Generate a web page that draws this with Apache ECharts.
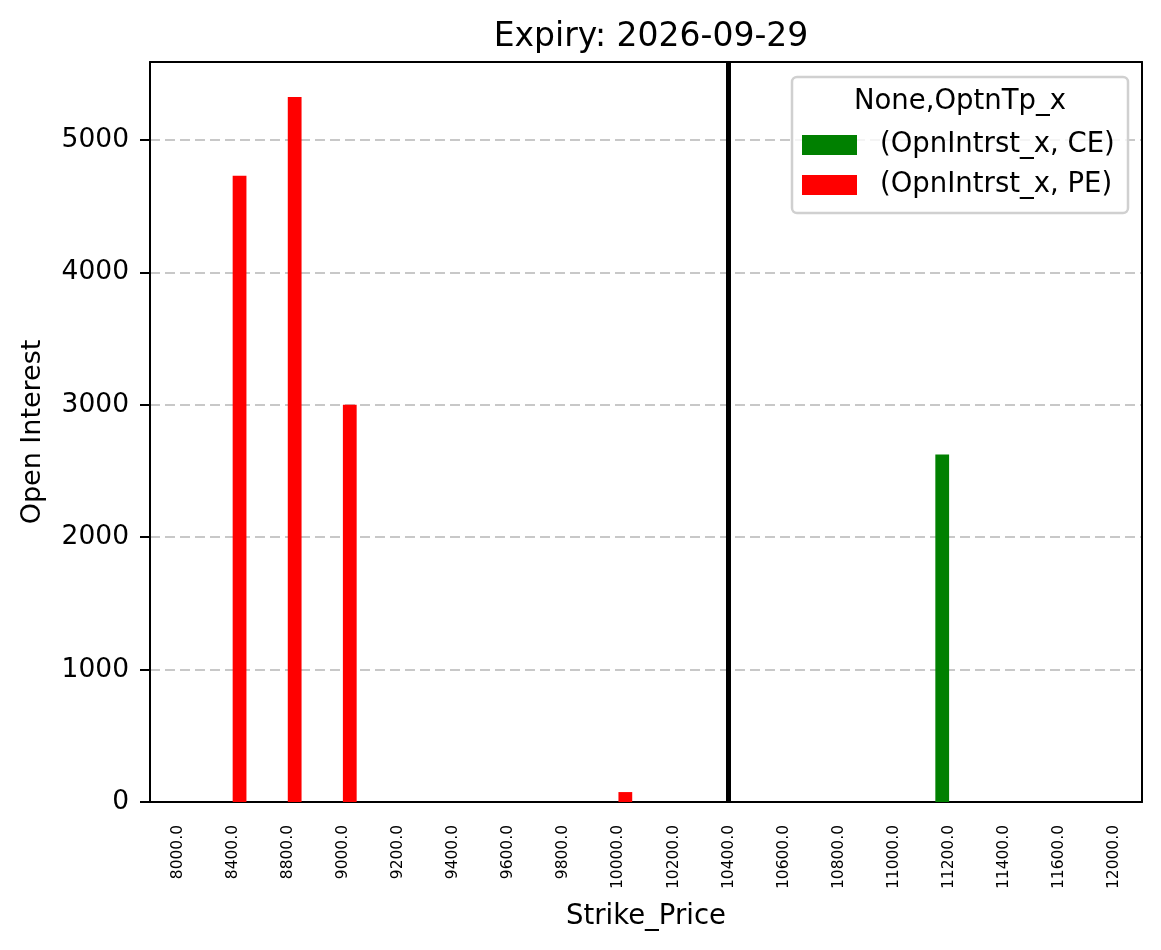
<!DOCTYPE html>
<html>
<head>
<meta charset="utf-8">
<script src="https://cdn.jsdelivr.net/npm/echarts@6/dist/echarts.min.js"></script>
<style>html,body{margin:0;padding:0;background:#fff}#c{width:1161px;height:950px}</style>
</head>
<body>
<div id="c"></div>
<script>
const strikes = ['8000.0','8400.0','8800.0','9000.0','9200.0','9400.0','9600.0','9800.0','10000.0','10200.0','10400.0','10600.0','10800.0','11000.0','11200.0','11400.0','11600.0','12000.0'];
const ceOI = [0,0,0,0,0,0,0,0,0,0,0,0,0,0,2625,0,0,0];
const peOI = [0,4730,5325,3000,0,0,0,0,75,0,0,0,0,0,0,0,0,0];
const spotStrike = '10400.0';

const F = 'DejaVu Sans';
const chart = echarts.init(document.getElementById('c'), null, {renderer:'canvas'});
chart.setOption({
  animation:false,
  backgroundColor:'#fff',
  textStyle:{fontFamily:F},
  title:{text:'Expiry: 2026-09-29', left:646, textAlign:'center', top:16,
    textStyle:{fontFamily:F, fontSize:33, fontWeight:'normal', color:'#000'}},
  grid:{left:150, right:19, top:62, bottom:148, containLabel:false, outerBoundsMode:'none'},
  legend:{orient:'vertical', left:797, top:126, itemWidth:55, itemHeight:20, itemGap:12, z:200,
    icon:'rect', data:['(OpnIntrst_x, CE)','(OpnIntrst_x, PE)'],
    textStyle:{fontFamily:F, fontSize:27.5, color:'#000', padding:[0,0,0,18]}},
  graphic:[
    {type:'rect', shape:{x:792, y:77, width:336, height:136, r:5}, style:{fill:'rgba(255,255,255,0.8)', stroke:'#d0d0d0', lineWidth:2.5}, z:100},
    {type:'text', x:960, y:88, style:{text:'None,OptnTp_x', align:'center', verticalAlign:'top', fontFamily:F, fontSize:27.5, fill:'#000'}, z:101}
  ],
  xAxis:[
    {type:'category', data:strikes, boundaryGap:true,
    name:'Strike_Price', nameLocation:'middle', nameGap:101,
    nameTextStyle:{fontFamily:F, fontSize:27.5, color:'#000'},
    axisLine:{lineStyle:{color:'#000', width:2}},
    axisTick:{alignWithLabel:true, length:10, lineStyle:{color:'#000', width:2}},
    axisLabel:{rotate:90, interval:0, fontFamily:F, fontSize:15.5, color:'#000', margin:23},
    splitLine:{show:false}},
    {type:'category', data:strikes, position:'top', z:10,
     axisLine:{show:true, onZero:false, lineStyle:{color:'#000', width:2}}, axisTick:{show:false}, axisLabel:{show:false}, splitLine:{show:false}}
  ],
  yAxis:[
    {type:'value', min:0, max:5590, interval:1000,
    name:'Open Interest', nameLocation:'middle', nameGap:104,
    nameTextStyle:{fontFamily:F, fontSize:27, color:'#000'},
    axisLine:{show:true, lineStyle:{color:'#000', width:2}},
    axisTick:{show:true, length:10, lineStyle:{color:'#000', width:2}},
    axisLabel:{fontFamily:F, fontSize:26.5, color:'#000', margin:21, showMaxLabel:false, formatter:function(v){return String(v);}},
    splitLine:{show:true, lineStyle:{color:'#c8c8c8', type:[10,5], width:2}}},
    {type:'value', min:0, max:5590, interval:1000, position:'right', z:10,
     axisLine:{show:true, onZero:false, lineStyle:{color:'#000', width:2}}, axisTick:{show:false}, axisLabel:{show:false}, splitLine:{show:false}}
  ],
  series:[
    {name:'(OpnIntrst_x, CE)', type:'bar', data:ceOI, barWidth:'25%', barGap:'0%', itemStyle:{color:'#008000'}},
    {name:'(OpnIntrst_x, PE)', type:'bar', data:peOI, barWidth:'25%', barGap:'0%', itemStyle:{color:'#ff0000'}},
    {name:'spot', type:'line', data:strikes.map(function(){return null;}), showSymbol:false, z:5,
      markLine:{silent:true, symbol:['none','none'], label:{show:false},
        lineStyle:{color:'#000', width:5, type:'solid'}, data:[{xAxis:spotStrike}]}}
  ]
});
</script>
</body>
</html>
